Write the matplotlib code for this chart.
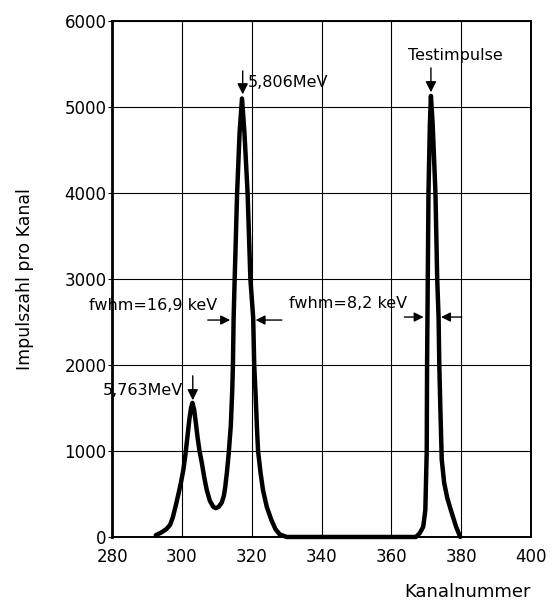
import matplotlib.pyplot as plt

# spectrum (channel, counts)
kanal = [292.5, 294.0, 295.5, 296.6, 297.4, 298.2, 299.0, 299.7, 300.4, 301.0,
         301.5, 302.1, 302.6, 303.0, 303.5, 304.0, 304.5, 305.0, 305.7, 306.4,
         307.1, 308.0, 309.0, 309.7, 310.5, 311.4, 312.0, 312.4, 312.9, 313.4,
         314.0, 314.4, 314.6, 314.8, 315.1, 315.8, 316.5, 317.2, 317.9, 318.8,
         319.6, 320.4, 320.7, 321.1, 321.5, 321.8, 322.5, 323.2, 324.3, 325.6,
         326.8, 328.0, 330.0, 367.0, 368.0, 368.6, 369.1, 369.7, 370.1, 370.2,
         370.4, 370.6, 371.0, 371.3, 371.8, 372.6, 373.1, 373.5, 373.7, 374.0,
         374.4, 375.1, 376.0, 377.0, 378.5, 379.7]
impulse = [20, 50, 90, 140, 230, 360, 500, 630, 780, 960,
           1140, 1360, 1500, 1560, 1480, 1320, 1150, 1010, 860, 690,
           547, 420, 350, 335, 350, 400, 480, 581, 760, 977,
           1300, 1700, 2000, 2550, 3000, 4000, 4700, 5100, 4700, 4000,
           3000, 2550, 2000, 1650, 1250, 1000, 750, 547, 350, 198,
           90, 30, 0, 0, 40, 80, 120, 314, 1000, 2000,
           3000, 4000, 4800, 5130, 4800, 4000, 3000, 2550, 2000, 1500,
           900, 628, 450, 314, 120, 0]

x_ticks = [280, 300, 320, 340, 360, 380, 400]
y_ticks = [0, 1000, 2000, 3000, 4000, 5000, 6000]

fig = plt.figure(figsize=(5.55, 6.03), dpi=100)
ax = fig.add_axes([0.202, 0.1095, 0.755, 0.8555])

ax.plot(kanal, impulse, color='black', lw=3.2, solid_joinstyle='round',
        solid_capstyle='round', clip_on=False, zorder=3)

ax.set_xlim(280, 400)
ax.set_ylim(0, 6000)
ax.set_xticks(x_ticks)
ax.set_yticks(y_ticks)
ax.grid(True, color='black', lw=0.8)
ax.tick_params(axis='x', length=0, pad=8, labelsize=12)
ax.tick_params(axis='y', length=3, pad=1, labelsize=12)
for s in ax.spines.values():
    s.set_linewidth(1.4)
ax.spines['left'].set_linewidth(2)

ax.set_ylabel('Impulszahl pro Kanal', fontsize=12.5, labelpad=22)
ax.set_xlabel('Kanalnummer', fontsize=13, loc='right', labelpad=12)

down = dict(arrowstyle='-|>', color='black', lw=1, mutation_scale=16)
side = dict(arrowstyle='-|>', color='black', lw=1, mutation_scale=14)

# peak markers
ax.annotate('', xy=(317.4, 5116), xytext=(317.4, 5453), arrowprops=down)
ax.text(318.9, 5290, '5,806MeV', fontsize=11.5, ha='left', va='center')
ax.annotate('', xy=(371.3, 5140), xytext=(371.3, 5488), arrowprops=down)
ax.text(378.3, 5605, 'Testimpulse', fontsize=11.5, ha='center', va='center')
ax.annotate('', xy=(303.1, 1558), xytext=(303.1, 1907), arrowprops=down)
ax.text(300.3, 1709, '5,763MeV', fontsize=11.5, ha='right', va='center')

# fwhm markers
ax.text(291.7, 2698, 'fwhm=16,9 keV', fontsize=11.5, ha='center', va='center', clip_on=False)
ax.annotate('', xy=(314.6, 2523), xytext=(306.6, 2523), arrowprops=side)
ax.annotate('', xy=(320.3, 2523), xytext=(329.4, 2523), arrowprops=side)
ax.text(347.6, 2721, 'fwhm=8,2 keV', fontsize=11.5, ha='center', va='center')
ax.annotate('', xy=(370.0, 2558), xytext=(362.9, 2558), arrowprops=side)
ax.annotate('', xy=(373.4, 2558), xytext=(380.9, 2558), arrowprops=side)

plt.savefig('out.png', dpi=100)
